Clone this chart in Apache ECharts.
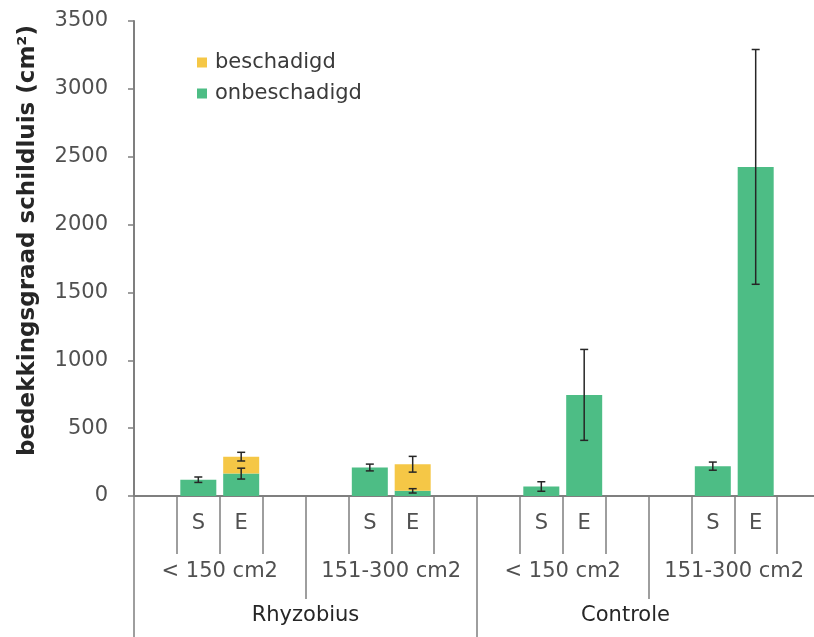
<!DOCTYPE html>
<html>
<head>
<meta charset="utf-8">
<title>bedekkingsgraad schildluis</title>
<script src="https://cdn.jsdelivr.net/npm/echarts@6/dist/echarts.min.js"></script>
<style>
  html, body { margin: 0; padding: 0; background: #ffffff; }
  #chart { width: 814px; height: 637px; }
</style>
</head>
<body>
<div id="chart"></div>
<script>
// Groups on the x axis (outer to inner)
const treatments = ['Rhyzobius', 'Controle'];
const sizeClasses = ['< 150 cm2', '151-300 cm2'];
const timepoints = ['S', 'E'];

// Mean coverage (cm²), order: Rhyzobius <150 S, E, 151-300 S, E, Controle <150 S, E, 151-300 S, E
const onbeschadigd = [120, 165, 210, 38, 70, 745, 220, 2425];
const beschadigd = [0, 125, 0, 196, 0, 0, 0, 0];
// Error bar half-widths
const onbeschadigdErr = [20, 40, 25, 16, 35, 335, 30, 865];
const beschadigdErr = [0, 32, 0, 58, 0, 0, 0, 0];

// Y axis ticks
const yMin = 0, yMax = 3500, yStep = 500;

// Every size class gets four slots: blank, S, E, blank
const slotsPerClass = timepoints.length + 2;
const innerLabels = [];
const classLabels = [];
treatments.forEach(() => {
  sizeClasses.forEach(sc => {
    classLabels.push(sc);
    innerLabels.push('');
    timepoints.forEach(tp => innerLabels.push(tp));
    innerLabels.push('');
  });
});

const slotOf = i => Math.floor(i / timepoints.length) * slotsPerClass + 1 + (i % timepoints.length);

const greenBars = innerLabels.map(() => '-');
const yellowBars = innerLabels.map(() => '-');
const greenErr = [];
const yellowErr = [];
onbeschadigd.forEach((v, i) => {
  const s = slotOf(i);
  greenBars[s] = v;
  greenErr.push([s, v - onbeschadigdErr[i], v + onbeschadigdErr[i]]);
  if (beschadigd[i] > 0) {
    yellowBars[s] = beschadigd[i];
    const top = v + beschadigd[i];
    yellowErr.push([s, top - beschadigdErr[i], top + beschadigdErr[i]]);
  }
});

const FONT = 'DejaVu Sans';
const FS = 21;
const AXIS_COLOR = '#7f7f7f';
const LABEL_COLOR = '#505050';

function errorBar(params, api) {
  const x = api.value(0);
  const lo = api.coord([x, api.value(1)]);
  const hi = api.coord([x, api.value(2)]);
  const hw = 4;
  const style = { stroke: '#262626', lineWidth: 1.5 };
  return {
    type: 'group',
    children: [
      { type: 'line', shape: { x1: lo[0], y1: lo[1], x2: hi[0], y2: hi[1] }, style },
      { type: 'line', shape: { x1: lo[0] - hw, y1: lo[1], x2: lo[0] + hw, y2: lo[1] }, style },
      { type: 'line', shape: { x1: hi[0] - hw, y1: hi[1], x2: hi[0] + hw, y2: hi[1] }, style }
    ]
  };
}

const chart = echarts.init(document.getElementById('chart'), null, { renderer: 'canvas' });

chart.setOption({
  animation: false,
  backgroundColor: '#ffffff',
  textStyle: { fontFamily: FONT },
  grid: { left: 134, top: 21, height: 475, width: 686, containLabel: false, outerBoundsMode: 'none' },
  legend: {
    orient: 'vertical',
    left: 192,
    top: 47,
    itemWidth: 10,
    itemHeight: 10,
    itemGap: 10,
    icon: 'rect',
    data: ['beschadigd', 'onbeschadigd'],
    textStyle: { fontFamily: FONT, fontSize: FS, color: '#3a3a3a', padding: [0, 0, 0, 3] }
  },
  xAxis: [
    {
      type: 'category',
      position: 'bottom',
      data: innerLabels,
      axisLine: { show: true, lineStyle: { color: AXIS_COLOR, width: 2 } },
      axisTick: { show: true, interval: 0, length: 58, lineStyle: { color: AXIS_COLOR, width: 1.5 } },
      axisLabel: { interval: 0, margin: 17, fontFamily: FONT, fontSize: FS, color: LABEL_COLOR }
    },
    {
      type: 'category',
      position: 'bottom',
      data: classLabels,
      axisLine: { show: false },
      axisTick: { show: true, interval: 0, length: 103, lineStyle: { color: AXIS_COLOR, width: 1.5 } },
      axisLabel: { interval: 0, margin: 65, fontFamily: FONT, fontSize: FS, color: LABEL_COLOR }
    },
    {
      type: 'category',
      position: 'bottom',
      data: treatments,
      axisLine: { show: false },
      axisTick: { show: true, interval: 0, length: 145, lineStyle: { color: AXIS_COLOR, width: 1.5 } },
      axisLabel: {
        interval: 0, margin: 109, fontFamily: FONT, fontSize: FS, color: '#262626',
        formatter: v => (v === 'Controle' ? '{c|' + v + '}' : v),
        rich: { c: { fontFamily: FONT, fontSize: FS, color: '#262626', padding: [0, 46, 0, 0] } }
      }
    }
  ],
  yAxis: {
    type: 'value',
    min: yMin,
    max: yMax,
    interval: yStep,
    name: 'bedekkingsgraad schildluis (cm²)',
    nameLocation: 'middle',
    nameRotate: 90,
    nameGap: 94,
    nameTextStyle: { fontFamily: FONT, fontSize: 23, fontWeight: 'bold', color: '#262626', padding: [0, 0, 0, 36] },
    axisLine: { show: true, lineStyle: { color: AXIS_COLOR, width: 2 } },
    axisTick: { show: true, length: 6, lineStyle: { color: AXIS_COLOR, width: 1.5 } },
    axisLabel: { margin: 26, fontFamily: FONT, fontSize: FS, color: LABEL_COLOR, formatter: v => String(v) },
    splitLine: { show: false }
  },
  series: [
    {
      name: 'onbeschadigd',
      type: 'bar',
      stack: 'total',
      data: greenBars,
      barWidth: 36,
      itemStyle: { color: '#4dbd85' }
    },
    {
      name: 'beschadigd',
      type: 'bar',
      stack: 'total',
      data: yellowBars,
      barWidth: 36,
      itemStyle: { color: '#f5c746' }
    },
    {
      type: 'custom',
      renderItem: errorBar,
      data: greenErr,
      encode: { x: 0, y: [1, 2] },
      z: 5
    },
    {
      type: 'custom',
      renderItem: errorBar,
      data: yellowErr,
      encode: { x: 0, y: [1, 2] },
      z: 5
    }
  ]
});
</script>
</body>
</html>
